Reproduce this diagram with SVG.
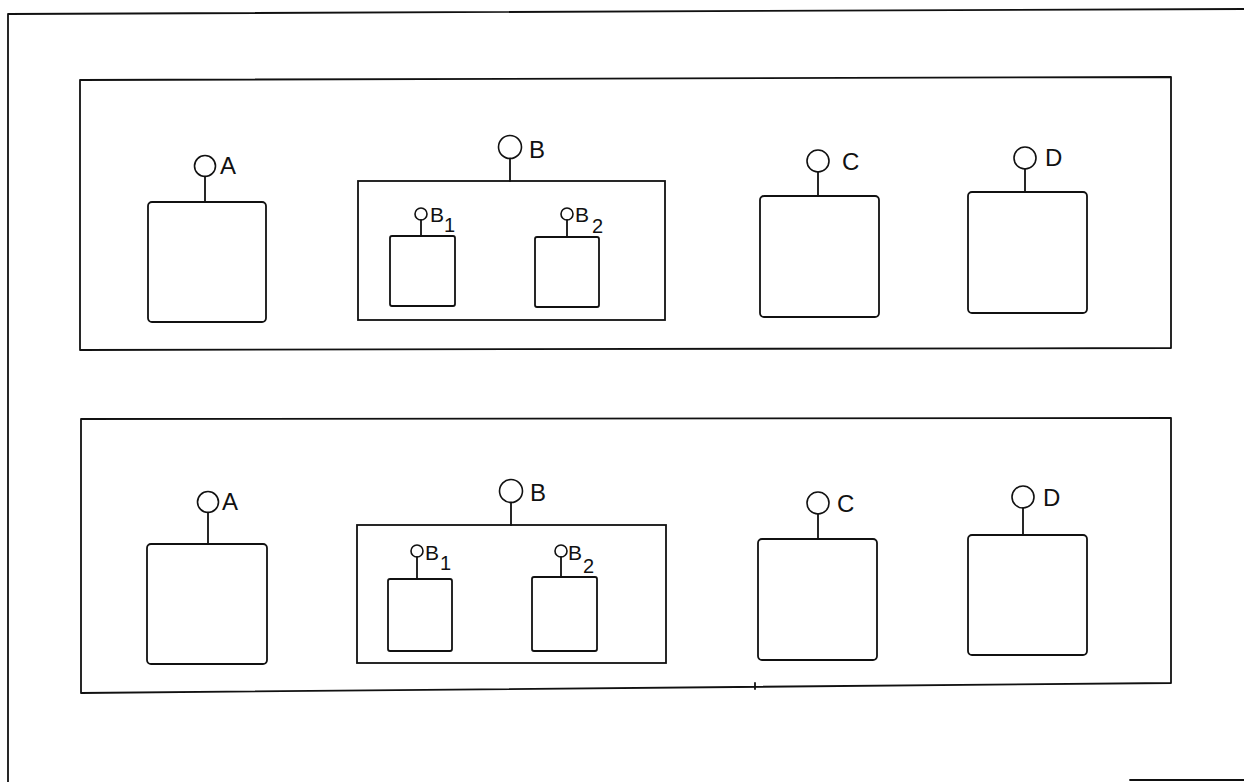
<svg xmlns="http://www.w3.org/2000/svg" width="1244" height="782" viewBox="0 0 1244 782">
<style>
.ln{fill:none;stroke:#111;stroke-width:1.8;stroke-linecap:round;stroke-linejoin:round}
.bx{fill:#fff;stroke:#111;stroke-width:1.8}
.pt{fill:#fff;stroke:#111;stroke-width:1.6}
.lb{font-family:"Liberation Sans",Arial,sans-serif;font-size:24px;fill:#111}
.ls{font-family:"Liberation Sans",Arial,sans-serif;font-size:21px;fill:#111}
.sb{font-family:"Liberation Sans",Arial,sans-serif;font-size:20px;fill:#111}
</style>
<rect width="1244" height="782" fill="#fff"/>
<g id="frame">
<path class="ln" d="M8,782 L8,14 L1244,9"/>
<path class="ln" d="M1130,780 L1244,780"/>
</g>
<g id="panel1">
<path class="ln" d="M80,80 L1171,77 L1171,348 L80,350 Z"/>
</g>
<g id="panel2">
<path class="ln" d="M81,419 L1171,418 L1171,683 L81,693 Z"/>
<path class="ln" d="M755,683 L755,689"/>
</g>
<g id="A1">
<rect class="bx" x="148" y="202" width="118" height="120" rx="4"/>
<circle class="pt" cx="205" cy="166" r="10.5"/>
<text class="lb" x="220" y="174">A</text>
</g>
<g id="B1grp">
<rect class="bx" x="358" y="181" width="307" height="139"/>
<circle class="pt" cx="510" cy="147" r="11.5"/>
<text class="lb" x="529" y="158">B</text>
<g id="B1a">
<rect class="bx" x="390" y="236" width="65" height="70" rx="2"/>
<circle class="pt" cx="421" cy="214" r="6"/>
<text class="ls" x="430" y="222">B</text>
<text class="sb" x="444" y="232">1</text>
</g>
<g id="B2a">
<rect class="bx" x="535" y="237" width="64" height="70" rx="2"/>
<circle class="pt" cx="567" cy="214" r="6"/>
<text class="ls" x="575" y="222">B</text>
<text class="sb" x="592" y="233">2</text>
</g>
</g>
<g id="C1">
<rect class="bx" x="760" y="196" width="119" height="121" rx="4"/>
<circle class="pt" cx="818" cy="161" r="11"/>
<text class="lb" x="842" y="170">C</text>
</g>
<g id="D1">
<rect class="bx" x="968" y="192" width="119" height="121" rx="4"/>
<circle class="pt" cx="1025" cy="158" r="11"/>
<text class="lb" x="1045" y="166">D</text>
</g>
<g id="A2">
<rect class="bx" x="147" y="544" width="120" height="120" rx="4"/>
<circle class="pt" cx="208" cy="502" r="10.5"/>
<text class="lb" x="222" y="510">A</text>
</g>
<g id="B2grp">
<rect class="bx" x="357" y="525" width="309" height="138"/>
<circle class="pt" cx="511" cy="491" r="11.5"/>
<text class="lb" x="530" y="501">B</text>
<g id="B1b">
<rect class="bx" x="388" y="579" width="64" height="72" rx="2"/>
<circle class="pt" cx="417" cy="551" r="6"/>
<text class="ls" x="425" y="560">B</text>
<text class="sb" x="440" y="570">1</text>
</g>
<g id="B2b">
<rect class="bx" x="532" y="577" width="65" height="74" rx="2"/>
<circle class="pt" cx="561" cy="551" r="6"/>
<text class="ls" x="568" y="560">B</text>
<text class="sb" x="583" y="573">2</text>
</g>
</g>
<g id="C2">
<rect class="bx" x="758" y="539" width="119" height="121" rx="4"/>
<circle class="pt" cx="818" cy="503" r="11"/>
<text class="lb" x="837" y="512">C</text>
</g>
<g id="D2">
<rect class="bx" x="968" y="535" width="119" height="120" rx="4"/>
<circle class="pt" cx="1023" cy="497" r="11"/>
<text class="lb" x="1043" y="506">D</text>
</g>
<g id="connectors">
<path class="ln" d="M205,176.5 V202 M510,158.5 V181 M421,220 V236 M567,220 V237 M818,172 V196 M1025,169 V192"/>
<path class="ln" d="M208,512.5 V544 M511,502.5 V525 M417,557 V579 M561,557 V577 M818,514 V539 M1023,508 V535"/>
</g>
</svg>
